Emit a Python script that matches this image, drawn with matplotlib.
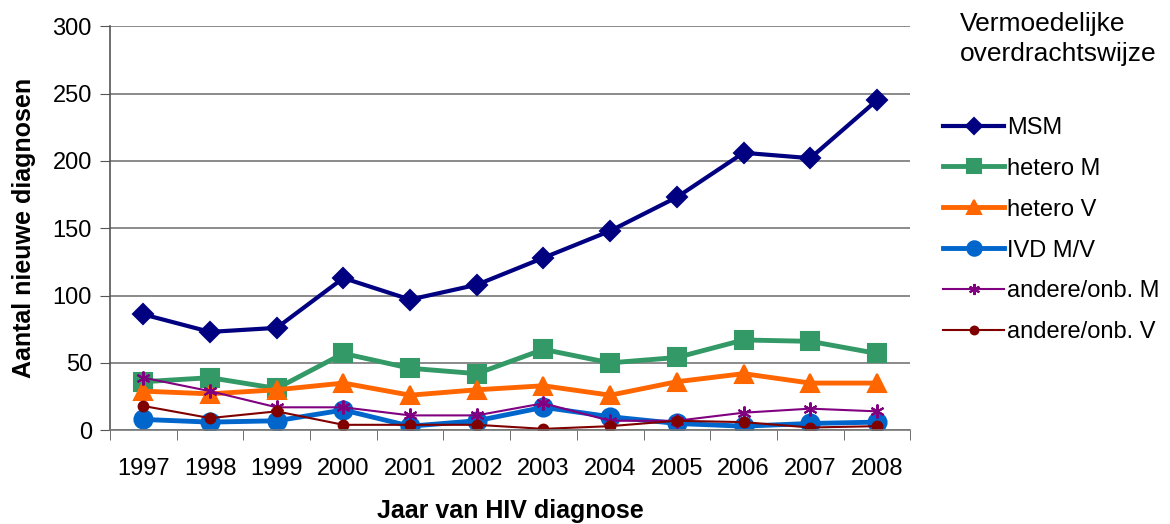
import matplotlib
matplotlib.use("Agg")
from matplotlib import pyplot as plt
import numpy as np

plt.rcParams["font.family"] = ["Liberation Sans", "DejaVu Sans"]

years = ["1997", "1998", "1999", "2000", "2001", "2002",
         "2003", "2004", "2005", "2006", "2007", "2008"]

msm = [86, 73, 76, 113, 97, 108, 128, 148, 173, 206, 202, 245]
hetero_m = [36, 39, 31, 57, 46, 42, 60, 50, 54, 67, 66, 57]
hetero_v = [29, 27, 30, 35, 26, 30, 33, 26, 36, 42, 35, 35]
ivd = [8, 6, 7, 15, 3, 7, 17, 10, 5, 3, 5, 6]
andere_m = [39, 29, 17, 17, 11, 11, 20, 7, 7, 13, 16, 14]
andere_v = [18, 9, 14, 4, 4, 4, 1, 3, 7, 6, 2, 3]

series = [
    ("MSM", msm, "#000080", "D", 3.0, 10.5),
    ("hetero M", hetero_m, "#339966", "s", 3.5, 13),
    ("hetero V", hetero_v, "#FF6600", "^", 3.5, 13),
    ("IVD M/V", ivd, "#0066CC", "o", 3.5, 13),
    ("andere/onb. M", andere_m, "#800080", (6, 2, 0), 1.5, 10),
    ("andere/onb. V", andere_v, "#800000", "o", 1.5, 7),
]

fig = plt.figure(figsize=(11.7, 5.24), dpi=100)
ax = fig.add_axes([0.094, 0.179, 0.684, 0.771])

x = np.arange(len(years))
for name, vals, col, mk, lw, ms in series:
    ax.plot(x, vals, color=col, lw=lw, marker=mk, ms=ms, mew=1.5,
            mec=col, label=name)

ax.set_xlim(-0.5, len(years) - 0.5)
ax.set_ylim(0, 300)
ax.set_yticks(range(0, 301, 50))
ax.set_xticks(x)
ax.set_xticklabels(years)
ax.set_xticks(np.arange(-0.5, len(years), 1), minor=True)
ax.tick_params(axis="x", which="major", length=0, labelsize=17, pad=20)
ax.tick_params(axis="x", which="minor", length=7, color="#555555")
ax.tick_params(axis="y", length=7, color="#555555", labelsize=17, pad=6)
ax.yaxis.grid(True, color="#777777", lw=1.2)
ax.set_axisbelow(True)
for s in ["top", "right"]:
    ax.spines[s].set_visible(False)
ax.spines["left"].set_color("#555555")
ax.spines["bottom"].set_color("#777777")
ax.spines["left"].set_linewidth(1.2)
ax.spines["bottom"].set_linewidth(1.2)

ax.set_xlabel("Jaar van HIV diagnose", fontsize=18, fontweight="bold", labelpad=14)
ax.set_ylabel("Aantal nieuwe diagnosen", fontsize=18, fontweight="bold", labelpad=12)

fig.text(0.82, 0.977, "Vermoedelijke\noverdrachtswijze", fontsize=19,
         va="top", ha="left", linespacing=1.3)
fig.legend(loc="upper left", bbox_to_anchor=(0.798, 0.795), frameon=False,
           fontsize=17, handlelength=2.6, handletextpad=0.1,
           labelspacing=0.8, borderaxespad=0, markerscale=0.8)

fig.savefig("out.png", dpi=100)
